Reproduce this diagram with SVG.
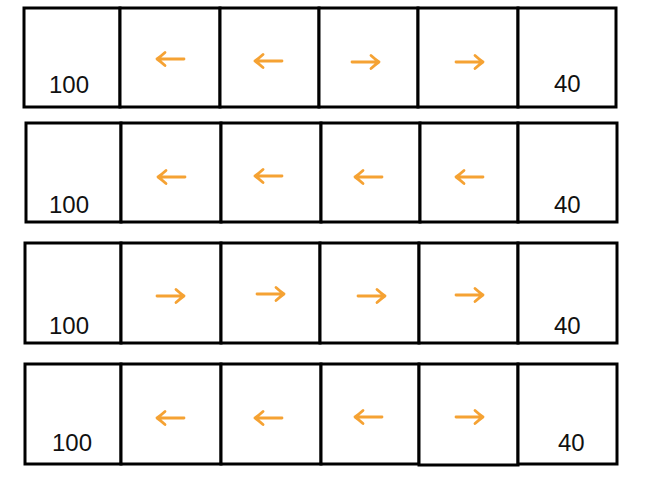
<svg xmlns="http://www.w3.org/2000/svg" width="646" height="478" viewBox="0 0 646 478">
<style>
.cell{fill:#fff;stroke:#000;stroke-width:3}
.num{font-family:"Liberation Sans",Arial,sans-serif;font-size:24px;fill:#111}
.arr{fill:none;stroke:#f5a233;stroke-width:2.8;stroke-linecap:round;stroke-linejoin:round}
</style>
<defs>
<path id="L" class="arr" d="M0,0 H27 M8,-6.5 Q3,-2 0,0 Q3,2 8,6.5"/>
<path id="R" class="arr" d="M0,0 H27 M19,-6.5 Q24,-2 27,0 Q24,2 19,6.5"/>
</defs>
<rect width="646" height="478" fill="#fff"/>
<g id="row1">
<rect class="cell" x="24" y="8" width="96" height="99"/>
<rect class="cell" x="120" y="8" width="100" height="99"/>
<rect class="cell" x="220" y="8" width="99" height="99"/>
<rect class="cell" x="319" y="8" width="99" height="99"/>
<rect class="cell" x="418" y="8" width="100" height="99"/>
<rect class="cell" x="518" y="8" width="98" height="99"/>
<text class="num" x="49" y="93">100</text>
<text class="num" x="554" y="92">40</text>
<use href="#L" x="157" y="59"/>
<use href="#L" x="255" y="61"/>
<use href="#R" x="352" y="62"/>
<use href="#R" x="456" y="62"/>
</g>
<g id="row2">
<rect class="cell" x="26" y="123" width="95" height="99"/>
<rect class="cell" x="121" y="123" width="100" height="99"/>
<rect class="cell" x="221" y="123" width="100" height="99"/>
<rect class="cell" x="321" y="123" width="99" height="99"/>
<rect class="cell" x="420" y="123" width="98" height="99"/>
<rect class="cell" x="518" y="123" width="99" height="99"/>
<text class="num" x="49" y="213">100</text>
<text class="num" x="554" y="213">40</text>
<use href="#L" x="158" y="177"/>
<use href="#L" x="255" y="176"/>
<use href="#L" x="355" y="177"/>
<use href="#L" x="456" y="177"/>
</g>
<g id="row3">
<rect class="cell" x="25" y="243" width="96" height="100"/>
<rect class="cell" x="121" y="243" width="100" height="100"/>
<rect class="cell" x="221" y="243" width="99" height="100"/>
<rect class="cell" x="320" y="243" width="99" height="100"/>
<rect class="cell" x="419" y="243" width="99" height="100"/>
<rect class="cell" x="518" y="243" width="99" height="100"/>
<text class="num" x="49" y="334">100</text>
<text class="num" x="554" y="334">40</text>
<use href="#R" x="157" y="296"/>
<use href="#R" x="257" y="294"/>
<use href="#R" x="358" y="296"/>
<use href="#R" x="456" y="295"/>
</g>
<g id="row4">
<rect class="cell" x="25" y="364" width="96" height="100"/>
<rect class="cell" x="121" y="364" width="100" height="100"/>
<rect class="cell" x="221" y="364" width="100" height="100"/>
<rect class="cell" x="321" y="364" width="98" height="100"/>
<rect class="cell" x="419" y="364" width="99" height="101"/>
<rect class="cell" x="518" y="364" width="99" height="100"/>
<text class="num" x="52" y="451">100</text>
<text class="num" x="558" y="451">40</text>
<use href="#L" x="157" y="418"/>
<use href="#L" x="255" y="418"/>
<use href="#L" x="355" y="417"/>
<use href="#R" x="456" y="417"/>
</g>
</svg>
